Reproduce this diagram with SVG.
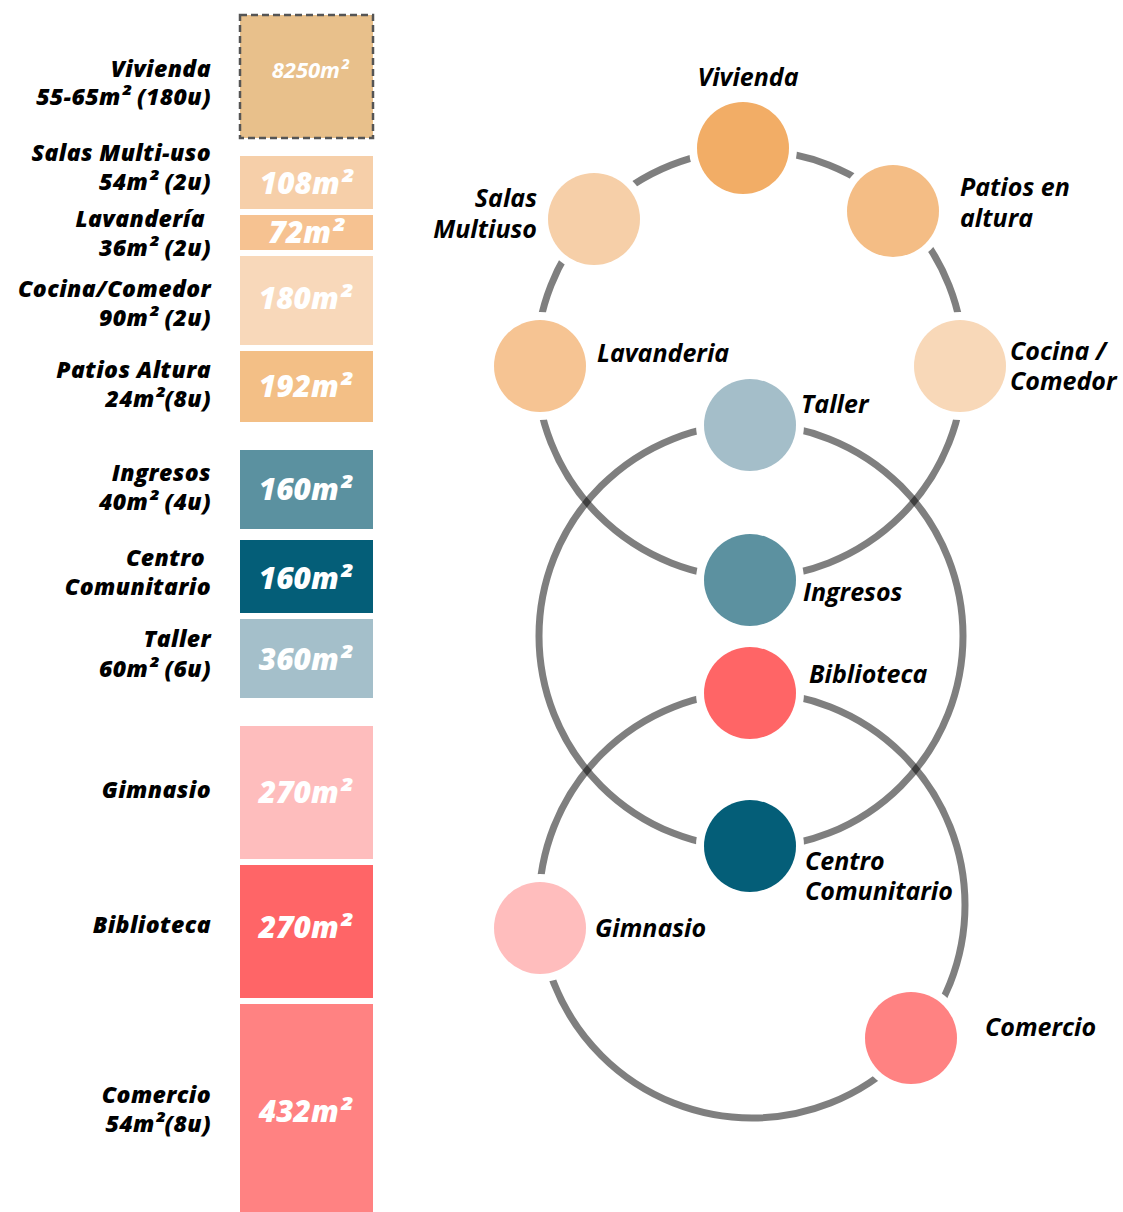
<svg xmlns="http://www.w3.org/2000/svg" width="1123" height="1212" viewBox="0 0 1123 1212">
<style>
.lbl{font-family:"Open Sans","Noto Sans",sans-serif;font-style:italic;font-weight:800;font-size:23px;fill:#000;text-anchor:end;letter-spacing:0.4px}
.num{font-family:"Open Sans","Noto Sans",sans-serif;font-style:italic;font-weight:800;font-size:30px;fill:#fff;text-anchor:middle}
.nl{font-family:"Open Sans","Noto Sans",sans-serif;font-style:italic;font-weight:700;font-size:25px;fill:#000}
.ring{fill:none;stroke:#000;stroke-opacity:0.5;stroke-width:7}
.halo{fill:#fff}
</style>
<rect width="1123" height="1212" fill="#fff"/>
<g id="bars">
<g id="bar-vivienda"><rect x="240" y="15" width="133" height="123" fill="#E8C08B" stroke="#555" stroke-width="2.5" stroke-dasharray="7,4"/><text class="num" x="310" y="78" style="font-size:22px;font-weight:700">8250m²</text><text class="lbl" x="211" y="77">Vivienda</text><text class="lbl" x="211" y="105">55-65m² (180u)</text></g>
<g id="bar-salas"><rect x="240" y="156" width="133" height="53" fill="#F6CFA9"/><text class="num" x="306" y="194">108m²</text><text class="lbl" x="211" y="161">Salas Multi-uso</text><text class="lbl" x="211" y="190">54m² (2u)</text></g>
<g id="bar-lavanderia"><rect x="240" y="215" width="133" height="35" fill="#F6C291"/><text class="num" x="306" y="243">72m²</text><text class="lbl" x="205" y="227">Lavandería</text><text class="lbl" x="211" y="256">36m² (2u)</text></g>
<g id="bar-cocina"><rect x="240" y="256" width="133" height="89" fill="#F8D8BA"/><text class="num" x="305" y="309">180m²</text><text class="lbl" x="211" y="297">Cocina/Comedor</text><text class="lbl" x="211" y="326">90m² (2u)</text></g>
<g id="bar-patios"><rect x="240" y="351" width="133" height="71" fill="#F3BF86"/><text class="num" x="305" y="397">192m²</text><text class="lbl" x="211" y="378">Patios Altura</text><text class="lbl" x="211" y="407">24m²(8u)</text></g>
<g id="bar-ingresos"><rect x="240" y="450" width="133" height="79" fill="#5B91A0"/><text class="num" x="305" y="500">160m²</text><text class="lbl" x="211" y="481">Ingresos</text><text class="lbl" x="211" y="510">40m² (4u)</text></g>
<g id="bar-centro"><rect x="240" y="540" width="133" height="73" fill="#045E78"/><text class="num" x="305" y="589">160m²</text><text class="lbl" x="205" y="566">Centro</text><text class="lbl" x="211" y="595">Comunitario</text></g>
<g id="bar-taller"><rect x="240" y="619" width="133" height="79" fill="#A4BFCA"/><text class="num" x="305" y="670">360m²</text><text class="lbl" x="211" y="647">Taller</text><text class="lbl" x="211" y="677">60m² (6u)</text></g>
<g id="bar-gimnasio"><rect x="240" y="726" width="133" height="133" fill="#FEBDBD"/><text class="num" x="305" y="803">270m²</text><text class="lbl" x="211" y="798">Gimnasio</text></g>
<g id="bar-biblioteca"><rect x="240" y="865" width="133" height="133" fill="#FF6567"/><text class="num" x="305" y="938">270m²</text><text class="lbl" x="211" y="933">Biblioteca</text></g>
<g id="bar-comercio"><rect x="240" y="1004" width="133" height="208" fill="#FF8282"/><text class="num" x="305" y="1122">432m²</text><text class="lbl" x="211" y="1103">Comercio</text><text class="lbl" x="211" y="1132">54m²(8u)</text></g>
</g>
<g id="connectors">
<circle class="ring" cx="750" cy="364" r="214"/>
<circle class="ring" cx="751" cy="636" r="212"/>
<circle class="ring" cx="752" cy="905" r="213"/>
</g>
<g id="n-vivienda"><circle class="halo" cx="743" cy="148" r="54"/><circle cx="743" cy="148" r="46" fill="#F2AD66"/><text class="nl" x="748" y="86" text-anchor="middle">Vivienda</text></g>
<g id="n-salas"><circle class="halo" cx="594" cy="219" r="54"/><circle cx="594" cy="219" r="46" fill="#F6CFA8"/><text class="nl" x="537" y="207" text-anchor="end">Salas</text><text class="nl" x="537" y="238" text-anchor="end">Multiuso</text></g>
<g id="n-patios"><circle class="halo" cx="893" cy="211" r="54"/><circle cx="893" cy="211" r="46" fill="#F4BD85"/><text class="nl" x="960" y="196">Patios en</text><text class="nl" x="960" y="227">altura</text></g>
<g id="n-lavanderia"><circle class="halo" cx="540" cy="366" r="54"/><circle cx="540" cy="366" r="46" fill="#F6C493"/><text class="nl" x="597" y="362">Lavanderia</text></g>
<g id="n-cocina"><circle class="halo" cx="960" cy="366" r="54"/><circle cx="960" cy="366" r="46" fill="#F8D8B8"/><text class="nl" x="1010" y="360">Cocina /</text><text class="nl" x="1010" y="390">Comedor</text></g>
<g id="n-taller"><circle class="halo" cx="750" cy="425" r="54"/><circle cx="750" cy="425" r="46" fill="#A4BEC9"/><text class="nl" x="801" y="413">Taller</text></g>
<g id="n-ingresos"><circle class="halo" cx="750" cy="580" r="54"/><circle cx="750" cy="580" r="46" fill="#5C91A0"/><text class="nl" x="803" y="601">Ingresos</text></g>
<g id="n-biblioteca"><circle class="halo" cx="750" cy="693" r="54"/><circle cx="750" cy="693" r="46" fill="#FF6566"/><text class="nl" x="809" y="683">Biblioteca</text></g>
<g id="n-centro"><circle class="halo" cx="750" cy="846" r="54"/><circle cx="750" cy="846" r="46" fill="#045E78"/><text class="nl" x="805" y="870">Centro</text><text class="nl" x="805" y="900">Comunitario</text></g>
<g id="n-gimnasio"><circle class="halo" cx="540" cy="928" r="54"/><circle cx="540" cy="928" r="46" fill="#FFBDBD"/><text class="nl" x="595" y="937">Gimnasio</text></g>
<g id="n-comercio"><circle class="halo" cx="911" cy="1038" r="54"/><circle cx="911" cy="1038" r="46" fill="#FF8282"/><text class="nl" x="985" y="1036">Comercio</text></g>
</svg>
